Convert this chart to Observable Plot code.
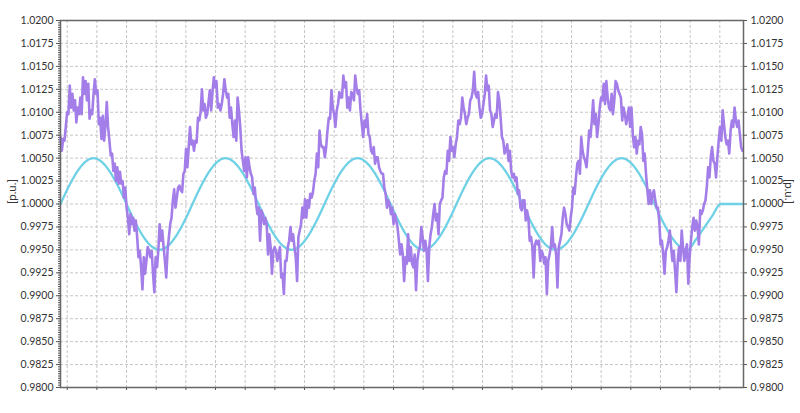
<!DOCTYPE html>
<html>
<head>
<meta charset="utf-8">
<script src="https://cdn.jsdelivr.net/npm/d3@7"></script>
<script src="https://cdn.jsdelivr.net/npm/@observablehq/plot@0.6"></script>
<style>
  html, body { margin: 0; padding: 0; background: #ffffff; }
</style>
</head>
<body>
<div id="chart"></div>
<script>
// ---- axis ticks ----
const yTicks = [0.9800, 0.9825, 0.9850, 0.9875, 0.9900, 0.9925, 0.9950, 0.9975, 1.0000,
                1.0025, 1.0050, 1.0075, 1.0100, 1.0125, 1.0150, 1.0175, 1.0200];
const yMinorStep = 0.00025;
const xTicks = [0, 1, 2, 3, 4, 5, 6, 7, 8, 9, 10, 11, 12, 13, 14, 15, 16, 17, 18, 19, 20, 21, 22];
const xStart = -0.226;   // time at left edge of plot (tick units)
const xEnd = 22.798;     // time at right edge of plot
const waveEnd = 22.023;  // reference sine ends here, then holds 1.0
const yLabel = "[p.u.]";

// ---- reference (cyan) signal, 16 samples per period ----
const reference = [
  1.0000, 1.0019, 1.0035, 1.0046, 1.0050, 1.0046, 1.0035, 1.0019, 1.0000, 0.9981, 0.9965, 0.9954, 0.9950, 0.9954, 0.9965, 0.9981,
  1.0000, 1.0019, 1.0035, 1.0046, 1.0050, 1.0046, 1.0035, 1.0019, 1.0000, 0.9981, 0.9965, 0.9954, 0.9950, 0.9954, 0.9965, 0.9981,
  1.0000, 1.0019, 1.0035, 1.0046, 1.0050, 1.0046, 1.0035, 1.0019, 1.0000, 0.9981, 0.9965, 0.9954, 0.9950, 0.9954, 0.9965, 0.9981,
  1.0000, 1.0019, 1.0035, 1.0046, 1.0050, 1.0046, 1.0035, 1.0019, 1.0000, 0.9981, 0.9965, 0.9954, 0.9950, 0.9954, 0.9965, 0.9981,
  1.0000, 1.0019, 1.0035, 1.0046, 1.0050, 1.0046, 1.0035, 1.0019, 1.0000, 0.9981, 0.9965, 0.9954, 0.9950,
  0.9961, 0.9974, 0.9987, 1.0000
];
const referenceHold = 1.0000;

// ---- measured (purple) signal, uniformly sampled, in six consecutive stretches ----
const measured1 = [
  1.0073, 1.0058, 1.0071, 1.0069, 1.0084, 1.0100, 1.0098, 1.0129, 1.0105, 1.0120,
  1.0102, 1.0113, 1.0089, 1.0105, 1.0098, 1.0116, 1.0098, 1.0138, 1.0120, 1.0134,
  1.0113, 1.0131, 1.0093, 1.0102, 1.0098, 1.0120, 1.0136, 1.0120, 1.0124, 1.0087,
  1.0094, 1.0071, 1.0096, 1.0069, 1.0085, 1.0111, 1.0084, 1.0069, 1.0053, 1.0055,
  1.0036, 1.0044, 1.0025, 1.0040, 1.0022, 1.0035, 1.0022, 1.0025, 1.0007, 1.0018,
  0.9996, 0.9985, 0.9967, 0.9989, 0.9978, 0.9985, 0.9971, 0.9982, 0.9964, 0.9942,
  0.9949, 0.9931, 0.9907, 0.9942, 0.9924, 0.9938, 0.9953, 0.9949, 0.9942, 0.9949,
  0.9924, 0.9904, 0.9942, 0.9931, 0.9949, 0.9978, 0.9960, 0.9971, 0.9953, 0.9938,
  0.9920, 0.9949, 0.9964, 0.9978
];
const measured2 = [
  0.9985, 1.0004, 1.0016, 0.9996, 1.0007, 1.0018, 1.0020, 1.0015, 1.0013, 1.0033,
  1.0036, 1.0060, 1.0040, 1.0062, 1.0084, 1.0065, 1.0069, 1.0058, 1.0069, 1.0067,
  1.0094, 1.0091, 1.0100, 1.0125, 1.0102, 1.0109, 1.0094, 1.0098, 1.0111, 1.0124,
  1.0102, 1.0122, 1.0138, 1.0127, 1.0134, 1.0105, 1.0109, 1.0102, 1.0109, 1.0120,
  1.0136, 1.0124, 1.0116, 1.0120, 1.0094, 1.0105, 1.0087, 1.0073, 1.0091, 1.0069,
  1.0116, 1.0102, 1.0084, 1.0058, 1.0047, 1.0036, 1.0051, 1.0029, 1.0051, 1.0040,
  1.0033, 1.0029, 1.0011, 1.0018, 1.0000, 0.9989, 0.9996, 0.9960, 0.9993, 0.9989,
  0.9978, 0.9985, 0.9978, 0.9945, 0.9967, 0.9953, 0.9924, 0.9949, 0.9953, 0.9949,
  0.9938, 0.9945, 0.9953, 0.9920, 0.9924, 0.9902, 0.9938
];
const measured3 = [
  0.9938, 0.9953, 0.9960, 0.9975, 0.9960, 0.9967, 0.9953, 0.9942, 0.9916, 0.9964,
  0.9971, 0.9978, 0.9996, 0.9985, 1.0005, 0.9985, 1.0004, 0.9996, 1.0011, 1.0007,
  1.0013, 1.0025, 1.0033, 1.0055, 1.0040, 1.0080, 1.0065, 1.0062, 1.0062, 1.0051,
  1.0062, 1.0080, 1.0094, 1.0093, 1.0124, 1.0105, 1.0098, 1.0084, 1.0102, 1.0109,
  1.0122, 1.0116, 1.0116, 1.0140, 1.0127, 1.0133, 1.0105, 1.0116, 1.0102, 1.0122,
  1.0120, 1.0113, 1.0140, 1.0127, 1.0120, 1.0124, 1.0102, 1.0087, 1.0073, 1.0091,
  1.0084, 1.0098, 1.0076, 1.0073, 1.0058, 1.0055, 1.0062, 1.0044, 1.0051, 1.0051,
  1.0040, 1.0036, 1.0033, 1.0033, 1.0018, 1.0011, 0.9996, 1.0004, 1.0000, 0.9989,
  0.9996, 0.9978, 0.9989, 0.9982, 0.9975, 0.9960, 0.9945
];
const measured4 = [
  0.9956, 0.9945, 0.9916, 0.9942, 0.9935, 0.9967, 0.9938, 0.9953, 0.9935, 0.9931,
  0.9945, 0.9906, 0.9938, 0.9949, 0.9953, 0.9975, 0.9964, 0.9949, 0.9960, 0.9949,
  0.9916, 0.9953, 0.9967, 0.9975, 0.9989, 1.0000, 0.9982, 0.9989, 0.9967, 1.0000,
  1.0004, 1.0007, 1.0029, 1.0036, 1.0033, 1.0058, 1.0047, 1.0073, 1.0058, 1.0062,
  1.0051, 1.0065, 1.0073, 1.0091, 1.0087, 1.0094, 1.0116, 1.0105, 1.0098, 1.0087,
  1.0094, 1.0098, 1.0113, 1.0116, 1.0124, 1.0144, 1.0120, 1.0116, 1.0122, 1.0105,
  1.0094, 1.0098, 1.0109, 1.0120, 1.0140, 1.0124, 1.0129, 1.0102, 1.0098, 1.0084,
  1.0091, 1.0098, 1.0094, 1.0122, 1.0113, 1.0094, 1.0073, 1.0069, 1.0055, 1.0058,
  1.0065, 1.0047, 1.0058, 1.0036, 1.0029, 1.0033, 1.0025
];
const measured5 = [
  1.0029, 1.0011, 1.0015, 0.9996, 0.9993, 1.0004, 1.0004, 0.9982, 0.9993, 0.9985,
  0.9960, 0.9964, 0.9953, 0.9920, 0.9956, 0.9960, 0.9956, 0.9960, 0.9938, 0.9949,
  0.9945, 0.9935, 0.9942, 0.9902, 0.9938, 0.9945, 0.9953, 0.9975, 0.9953, 0.9956,
  0.9945, 0.9909, 0.9953, 0.9960, 0.9967, 0.9985, 0.9996, 0.9989, 0.9978, 0.9975,
  0.9971, 0.9985, 0.9996, 1.0018, 1.0011, 1.0029, 1.0044, 1.0047, 1.0033, 1.0073,
  1.0058, 1.0051, 1.0047, 1.0040, 1.0058, 1.0080, 1.0073, 1.0091, 1.0113, 1.0087,
  1.0098, 1.0073, 1.0087, 1.0105, 1.0116, 1.0113, 1.0131, 1.0109, 1.0134, 1.0116,
  1.0105, 1.0102, 1.0120, 1.0098, 1.0113, 1.0134, 1.0131, 1.0124, 1.0120, 1.0116,
  1.0091, 1.0105, 1.0098, 1.0087, 1.0094, 1.0105, 1.0084
];
const measured6 = [
  1.0105, 1.0076, 1.0062, 1.0073, 1.0055, 1.0069, 1.0065, 1.0084, 1.0076, 1.0047,
  1.0055, 1.0033, 1.0015, 1.0000, 1.0015, 1.0000, 1.0011, 1.0015, 1.0004, 0.9996,
  0.9996, 0.9982, 0.9956, 0.9960, 0.9945, 0.9924, 0.9949, 0.9953, 0.9960, 0.9971,
  0.9953, 0.9938, 0.9949, 0.9927, 0.9904, 0.9938, 0.9953, 0.9938, 0.9971, 0.9953,
  0.9938, 0.9949, 0.9956, 0.9913, 0.9942, 0.9960, 0.9975, 0.9985, 0.9971, 0.9982,
  0.9975, 0.9956, 0.9993, 0.9989, 0.9993, 1.0000, 1.0004, 1.0018, 1.0040, 1.0029,
  1.0051, 1.0062, 1.0047, 1.0044, 1.0029, 1.0051, 1.0069, 1.0084, 1.0069, 1.0102,
  1.0087, 1.0073, 1.0065, 1.0069, 1.0055, 1.0080, 1.0091, 1.0084, 1.0105, 1.0091,
  1.0084, 1.0091, 1.0076, 1.0062, 1.0058
];
const measuredStart = -0.2259;
const measuredStop = 22.764;

// ---- colours ----
const measuredColor = "#a47ee8";
const referenceColor = "#6fd1e5";

// ---- build tables ----
const measured = [...measured1, ...measured2, ...measured3, ...measured4, ...measured5, ...measured6];
const mStep = (measuredStop - measuredStart) / (measured.length - 1);
const measuredData = measured.map((v, i) => ({t: measuredStart + i * mStep, v}));

const period = (waveEnd - xStart) / 5;
const referenceData = reference.map((v, k) => ({t: xStart + k * period / 16, v}));
referenceData.push({t: xEnd, v: referenceHold});

const minorTicks = d3.range(0, Math.round((1.02 - 0.98) / yMinorStep) + 1).map(i => +(0.98 + i * yMinorStep).toFixed(5));
const fmt = d3.format(".4f");

const chart = Plot.plot({
  width: 800,
  height: 413,
  marginLeft: 60,
  marginRight: 57,
  marginTop: 20,
  marginBottom: 26,
  style: {fontFamily: "Lato, 'Open Sans', sans-serif", fontSize: "10.5px", color: "#333", background: "#ffffff"},
  x: {domain: [xStart, xEnd]},
  y: {domain: [0.98, 1.02]},
  marks: [
    Plot.gridY(yTicks, {stroke: "#c6c6c6", strokeOpacity: 1, strokeDasharray: "3,2"}),
    Plot.gridX(xTicks, {stroke: "#c6c6c6", strokeOpacity: 1, strokeDasharray: "3,2"}),
    Plot.axisY(minorTicks, {anchor: "left", tickSize: 2, fill: "none", stroke: "#555"}),
    Plot.axisY(yTicks, {anchor: "left", tickSize: 4, tickPadding: 3, tickFormat: fmt, label: null, stroke: "#555"}),
    Plot.axisY(yTicks, {anchor: "right", tickSize: 3, tickPadding: 4, tickFormat: fmt, label: null, stroke: "#555"}),
    Plot.axisX(xTicks, {tickSize: 3, fill: "none", stroke: "#555"}),
    Plot.line(referenceData, {x: "t", y: "v", stroke: referenceColor, strokeWidth: 2.3, curve: "monotone-x"}),
    Plot.line(measuredData, {x: "t", y: "v", stroke: measuredColor, strokeWidth: 2.6}),
    Plot.frame({stroke: "#666", strokeWidth: 1.5}),
    Plot.text([yLabel], {text: d => d, frameAnchor: "left", dx: -48, rotate: -90, fontSize: 11.5, fill: "#333"}),
    Plot.text([yLabel], {text: d => d, frameAnchor: "right", dx: 45, rotate: 90, fontSize: 11.5, fill: "#333"})
  ]
});
document.getElementById("chart").appendChild(chart);
</script>
</body>
</html>
